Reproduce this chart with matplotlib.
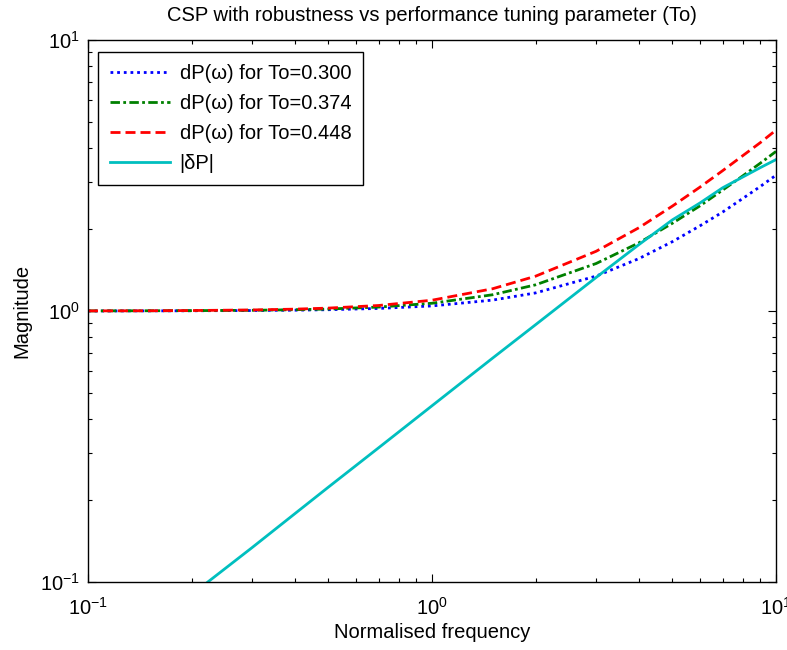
import matplotlib
matplotlib.use("Agg")
import matplotlib.pyplot as plt
from matplotlib.ticker import LogLocator, NullFormatter

plt.rcParams['font.family'] = ['Liberation Sans', 'DejaVu Sans']
plt.rcParams['mathtext.fontset'] = 'custom'
plt.rcParams['mathtext.rm'] = 'Liberation Sans'
plt.rcParams['mathtext.it'] = 'Liberation Sans:italic'
plt.rcParams['mathtext.bf'] = 'Liberation Sans:bold'

# Frequency grid (normalised) and the model magnitude curves
freq = [0.1, 0.15, 0.2, 0.3, 0.4, 0.5, 0.7, 1.0, 1.5, 2.0, 3.0, 4.0, 5.0, 6.0, 7.0, 8.0, 9.0, 10.0]
dp_to_300 = [1.000, 1.001, 1.002, 1.004, 1.007, 1.011, 1.022, 1.044, 1.097, 1.166, 1.345, 1.562, 1.803, 2.059, 2.319, 2.600, 2.880, 3.170]
dp_to_374 = [1.001, 1.002, 1.003, 1.006, 1.011, 1.017, 1.034, 1.068, 1.148, 1.249, 1.497, 1.786, 2.108, 2.440, 2.795, 3.150, 3.510, 3.880]
dp_to_448 = [1.001, 1.002, 1.004, 1.009, 1.016, 1.025, 1.048, 1.096, 1.208, 1.344, 1.661, 2.031, 2.439, 2.860, 3.296, 3.740, 4.180, 4.650]

freq_dP = [0.2, 0.223, 0.3, 0.4, 0.5, 0.7, 1.0, 1.5, 2.0, 3.0, 4.0, 5.0, 6.0, 7.0, 8.0, 9.0, 10.0]
abs_dP = [0.089, 0.100, 0.134, 0.179, 0.224, 0.313, 0.447, 0.670, 0.890, 1.330, 1.760, 2.170, 2.500, 2.850, 3.120, 3.380, 3.620]

labels = ['dP(\u03c9) for To=0.300', 'dP(\u03c9) for To=0.374', 'dP(\u03c9) for To=0.448', '|\u03b4P|']

FS = 14.5

fig = plt.figure(figsize=(7.87, 6.5), dpi=100)
ax = fig.add_axes([88/787, 1-582/650, (776-88)/787, (582-40)/650])

ax.loglog(freq, dp_to_300, color=(0, 0, 1), linestyle=(0, (1, 1.4)), linewidth=2, label=labels[0])
ax.loglog(freq, dp_to_374, color=(0, 0.5, 0), linestyle=(0, (3.4, 1.2, 1, 1.2)), linewidth=2, label=labels[1])
ax.loglog(freq, dp_to_448, color=(1, 0, 0), linestyle=(0, (3.6, 1.8)), linewidth=2, label=labels[2])
ax.loglog(freq_dP, abs_dP, color=(0, 0.75, 0.75), linestyle='-', linewidth=2, label=labels[3])

ax.set_xlim(0.1, 10)
ax.set_ylim(0.1, 10)

for a in (ax.xaxis, ax.yaxis):
    a.set_major_locator(LogLocator(base=10, numticks=10))
    a.set_minor_locator(LogLocator(base=10, subs=range(2, 10), numticks=10))
    a.set_minor_formatter(NullFormatter())

ax.tick_params(which='both', direction='in', top=True, right=True, labelsize=FS, colors='black')
ax.tick_params(which='major', length=6, width=0.8)
ax.tick_params(which='minor', length=3, width=0.8)
ax.tick_params(axis='x', pad=11)
ax.tick_params(axis='y', pad=6)
for s in ax.spines.values():
    s.set_linewidth(1.0)
    s.set_color('black')

ax.set_title('CSP with robustness vs performance tuning parameter (To)', fontsize=FS, pad=14)
ax.set_xlabel('Normalised frequency', fontsize=FS, labelpad=3)
ax.set_ylabel('Magnitude', fontsize=FS, labelpad=6)

leg = ax.legend(loc='upper left', bbox_to_anchor=(0.0145, 0.978), borderaxespad=0,
                fontsize=FS, frameon=True, fancybox=False, framealpha=1, edgecolor='black',
                handlelength=3.0, handletextpad=0.45, labelspacing=0.55, borderpad=0.6)
leg.get_frame().set_linewidth(1.0)

fig.savefig('out.png', dpi=100)
